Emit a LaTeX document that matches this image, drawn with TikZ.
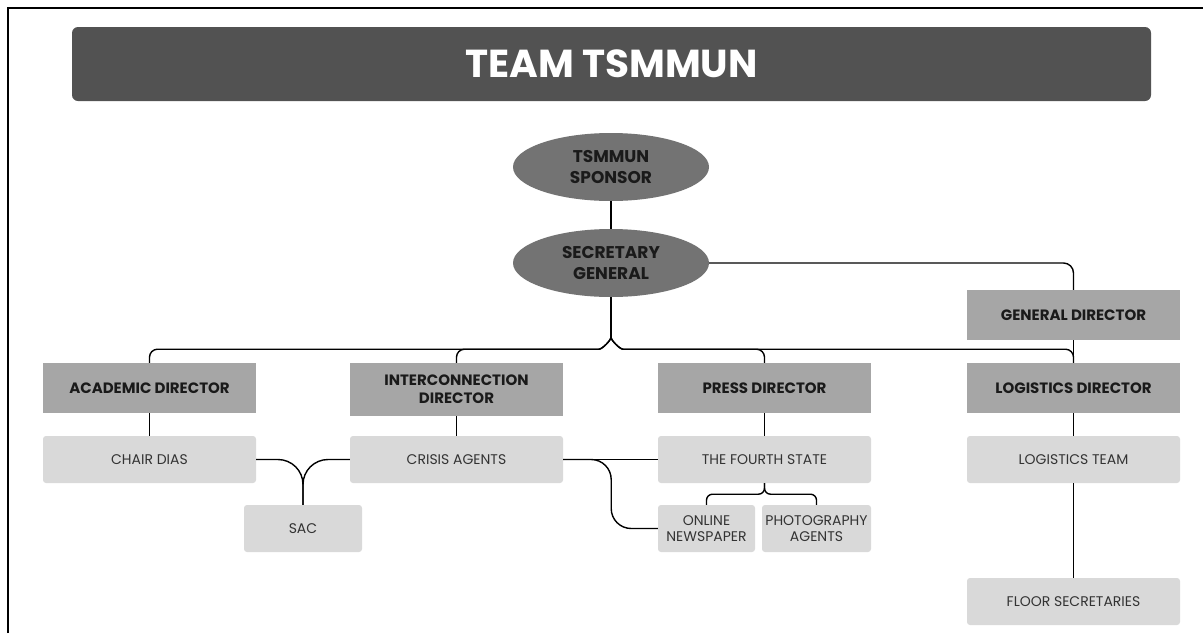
\documentclass[tikz,border=0pt]{standalone}
\usepackage{fontspec}
\setmainfont{Poppins}
\usetikzlibrary{shapes.geometric}
\definecolor{titlegray}{HTML}{525252}
\definecolor{midgray}{HTML}{737373}
\definecolor{darkbox}{HTML}{A6A6A6}
\definecolor{lightbox}{HTML}{D9D9D9}
\definecolor{textdark}{HTML}{1A1A1A}
\definecolor{textgray}{HTML}{333333}

\begin{document}
\begin{tikzpicture}[x=1pt, y=-1pt,
        titlebar/.style={fill=titlegray, rounded corners=6pt, minimum width=1079pt, minimum height=74pt, inner sep=0pt, text=white, font=\fontsize{39}{44}\selectfont\bfseries},
        head/.style={ellipse, fill=midgray, minimum width=196pt, minimum height=68pt, inner sep=0pt, align=center, text=textdark, font=\fontsize{17}{21}\selectfont\bfseries},
        director/.style={fill=darkbox, minimum width=213pt, minimum height=50pt, inner sep=0pt, align=center, text=textdark, font=\fontsize{15}{18}\selectfont\bfseries},
        team/.style={fill=lightbox, rounded corners=3pt, minimum width=213pt, minimum height=47pt, inner sep=0pt, align=center, text=textgray, font=\fontsize{14}{16}\selectfont},
        link/.style={line width=1.4pt, black}]
                \useasboundingbox (0,0) rectangle (1203,633);
                \fill [white] (0,0) rectangle (1203,633);
                \draw [line width=1.5pt] (8,633) -- (8,8) -- (1203,8);

                \node [titlebar] (title) at (611.5,64) {TEAM TSMMUN};

                \node [head] (sponsor) at (611,167) {TSMMUN\\SPONSOR};
                \node [head] (secgen) at (611,263) {SECRETARY\\GENERAL};

                \node [director] (gendir) at (1073.5,315) {GENERAL DIRECTOR};
                \node [director] (acaddir) at (149.5,388) {ACADEMIC DIRECTOR};
                \node [director, minimum height=53pt] (interdir) at (456.5,389.5) {INTERCONNECTION\\DIRECTOR};
                \node [director] (pressdir) at (764.5,388) {PRESS DIRECTOR};
                \node [director] (logdir) at (1073.5,388) {LOGISTICS DIRECTOR};

                \node [team] (chair) at (149.5,459.5) {CHAIR DIAS};
                \node [team] (crisis) at (456.5,459.5) {CRISIS AGENTS};
                \node [team] (fourth) at (764.5,459.5) {THE FOURTH STATE};
                \node [team] (logteam) at (1073.5,459.5) {LOGISTICS TEAM};
                \node [team, minimum width=118pt] (sac) at (303,528.5) {SAC};
                \node [team, minimum width=97pt] (online) at (706.5,528.5) {ONLINE\\NEWSPAPER};
                \node [team, minimum width=109pt] (photo) at (816.5,528.5) {PHOTOGRAPHY\\AGENTS};
                \node [team] (floor) at (1073.5,601.5) {FLOOR SECRETARIES};

                \draw [link] (sponsor) -- (secgen);
                \draw [link, rounded corners=10pt] (secgen.east) -| (gendir.north);
                \draw [link] (gendir) -- (logdir);
                \draw [link, rounded corners=8pt] (secgen.south) -- ++(0,32) to[out=-90, in=0] ++(-20,20) -| (acaddir.north);
                \draw [link, rounded corners=8pt] (secgen.south) -- ++(0,32) to[out=-90, in=0] ++(-20,20) -| (interdir.north);
                \draw [link, rounded corners=8pt] (secgen.south) -- ++(0,32) to[out=-90, in=180] ++(20,20) -| (pressdir.north);
                \draw [link, rounded corners=8pt] (secgen.south) -- ++(0,32) to[out=-90, in=180] ++(20,20) -| (logdir.north);

                \draw [link] (acaddir) -- (chair);
                \draw [link] (interdir) -- (crisis);
                \draw [link] (pressdir) -- (fourth);
                \draw [link] (logdir) -- (logteam);
                \draw [link] (logteam) -- (floor);

                \draw [link, rounded corners=25pt] (chair.east) -| (sac.north);
                \draw [link, rounded corners=25pt] (crisis.west) -| (sac.north);
                \draw [link] (crisis.east) -- (fourth.west);
                \draw [link, rounded corners=20pt] (crisis.east) -- ++(48,0) |- (online.west);
                \draw [link, rounded corners=6pt] (fourth.south) -- ++(0,11) -| (online.north);
                \draw [link, rounded corners=6pt] (fourth.south) -- ++(0,11) -| (photo.north);
            \end{tikzpicture}
\end{document}
